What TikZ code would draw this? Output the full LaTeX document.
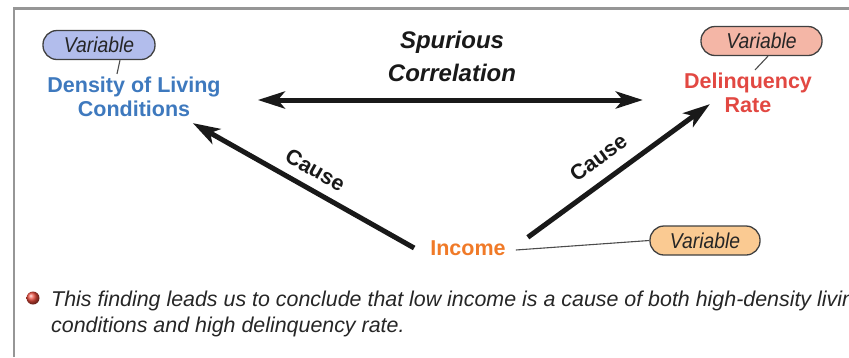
\documentclass[tikz,border=0pt]{standalone}
\usepackage{fontspec}
\setmainfont{Liberation Sans}
\newfontfamily\narrowsans[FakeStretch=0.9]{Liberation Sans}
\usetikzlibrary{arrows.meta,calc}
\definecolor{densblue}{RGB}{62,121,190}
\definecolor{delinqred}{RGB}{226,72,66}
\definecolor{incomeorange}{RGB}{240,122,40}
\definecolor{tagblue}{RGB}{178,189,236}
\definecolor{tagred}{RGB}{244,182,166}
\definecolor{tagorange}{RGB}{250,202,146}
\definecolor{framegray}{RGB}{150,150,150}
\definecolor{inkdark}{RGB}{25,25,25}
\definecolor{bulletred}{RGB}{235,75,60}

\begin{document}
\begin{tikzpicture}[
    x=1pt, y=-1pt,
    concept/.style={font=\fontsize{21.5}{24}\selectfont\bfseries, align=center, inner sep=3pt},
    tag/.style={draw=black!75, line width=1.3pt, rounded corners=14pt, minimum height=29pt,
      inner sep=0pt, font=\narrowsans\fontsize{21.5}{24}\selectfont\itshape, text=black!85},
    tagline/.style={draw=black!70, line width=1.1pt},
    cause/.style={draw=inkdark, line width=5pt, -{Stealth[length=27pt,width=17pt,inset=7pt]}},
    twoway/.style={draw=inkdark, line width=5pt,
      {Stealth[length=27pt,width=17pt,inset=7pt]}-{Stealth[length=27pt,width=17pt,inset=7pt]}},
    lbl/.style={font=\fontsize{21.5}{24}\selectfont\bfseries, text=inkdark, sloped, above}
    ]
    \useasboundingbox (0,0) rectangle (849,357);
    \draw[framegray, line width=2.6pt] (14,357) -- (14,8.5) -- (849,8.5);

    \node[concept, text=densblue] (density) at (134,97) {Density of Living\\Conditions};
    \node[concept, text=delinqred] (delinq) at (748,93) {Delinquency\\Rate};
    \node[concept, text=incomeorange] (income) at (468,248) {Income};
    \node[concept, font=\fontsize{24}{33}\selectfont\bfseries\itshape, text=inkdark] (spurious) at (452,56) {Spurious\\Correlation};

    \node[tag, fill=tagblue, minimum width=112pt] (varA) at (99,45) {Variable};
    \node[tag, fill=tagred, minimum width=121pt] (varB) at (761.5,41) {Variable};
    \node[tag, fill=tagorange, minimum width=110pt] (varC) at (705,240.5) {Variable};
    \draw[tagline] ($(varA.south)+(21,0)$) -- ($(density.north)+(-17,0)$);
    \draw[tagline] ($(varB.south)+(6.5,0)$) -- ($(delinq.north)+(7,0)$);
    \draw[tagline] ($(income.east)+(7,2)$) -- (varC.west);

    \draw[twoway] ($(density.east)+(34,3)$) -- ($(delinq.west)+(-38,7)$);
    \draw[cause] ($(income.west)+(-13,0)$) -- ($(density.south east)+(-31,3)$)
      node[lbl, pos=0.49, above=6pt] {Cause};
    \draw[cause] ($(income.north east)+(19,0)$) -- ($(delinq.south west)+(29,-12)$)
      node[lbl, pos=0.46, above=9pt] {Cause};

    \node[circle, shading=ball, ball color=bulletred, minimum size=13pt, inner sep=0pt] (bullet) at (33,298) {};
    \node[anchor=north west, inner sep=0pt, align=left, text=black!85,
      font=\fontsize{21.4}{26}\selectfont\itshape] (finding) at (51,291)
      {This finding leads us to conclude that low income is a cause of both high-density living\\conditions and high delinquency rate.};
\end{tikzpicture}
\end{document}
